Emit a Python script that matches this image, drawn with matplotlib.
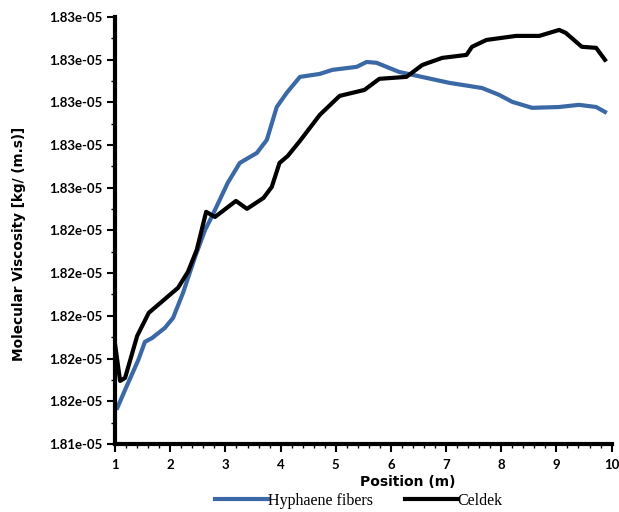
import matplotlib
matplotlib.use("Agg")
import matplotlib.pyplot as plt
from matplotlib.ticker import FormatStrFormatter, MultipleLocator, FixedLocator

# values in units of 1e-5 kg/(m.s)
hyph_x = [1.04, 1.18, 1.42, 1.54, 1.67, 1.90, 2.05, 2.23, 2.45, 2.63, 2.75,
          3.04, 3.26, 3.57, 3.75, 3.93, 4.11, 4.35, 4.71, 4.94, 5.38, 5.56,
          5.74, 6.15, 7.06, 7.65, 7.96, 8.20, 8.56, 9.05, 9.41, 9.72, 9.88]
hyph_y = [1.81609, 1.81693, 1.81833, 1.81918, 1.81936, 1.81983, 1.82030,
          1.82147, 1.82316, 1.82442, 1.82503, 1.82662, 1.82756, 1.82803,
          1.82864, 1.83018, 1.83084, 1.83159, 1.83173, 1.83192, 1.83206,
          1.83229, 1.83225, 1.83182, 1.83131, 1.83107, 1.83075, 1.83042,
          1.83014, 1.83018, 1.83028, 1.83018, 1.82995]

celdek_x = [1.00, 1.09, 1.18, 1.40, 1.61, 1.80, 2.14, 2.32, 2.48, 2.65, 2.81,
            3.19, 3.39, 3.69, 3.84, 3.98, 4.13, 4.35, 4.71, 5.07, 5.52, 5.79,
            6.28, 6.57, 6.93, 7.37, 7.47, 7.73, 8.27, 8.69, 9.05, 9.17, 9.46,
            9.72, 9.88]
celdek_y = [1.81904, 1.81735, 1.81749, 1.81946, 1.82054, 1.82096, 1.82171,
            1.82246, 1.82349, 1.82527, 1.82503, 1.82578, 1.82541, 1.82592,
            1.82644, 1.82756, 1.82789, 1.82859, 1.82981, 1.83070, 1.83098,
            1.83150, 1.83159, 1.83215, 1.83248, 1.83262, 1.83300, 1.83332,
            1.83351, 1.83351, 1.83379, 1.83365, 1.83300, 1.83295, 1.83239]

y_ticks = [1.8144 + 0.002 * k for k in range(11)]
x_ticks = list(range(1, 11))

fig = plt.figure(figsize=(6.19, 5.12), dpi=100)
ax = fig.add_axes([0.186, 0.133, 0.802, 0.834])

ax.plot(hyph_x, [v * 1e-5 for v in hyph_y], color='#3b69a6', lw=3.0,
        label='Hyphaene fibers')
ax.plot(celdek_x, [v * 1e-5 for v in celdek_y], color='black', lw=3.0,
        label='Celdek')

ax.set_xlim(1, 10)
ax.set_ylim(y_ticks[0] * 1e-5, y_ticks[-1] * 1e-5)
ax.yaxis.set_major_locator(FixedLocator([t * 1e-5 for t in y_ticks]))
ax.yaxis.set_minor_locator(FixedLocator([(t + 0.001) * 1e-5 for t in y_ticks[:-1]]))
ax.yaxis.set_major_formatter(FormatStrFormatter('%.2e'))
ax.xaxis.set_major_locator(FixedLocator(x_ticks))
ax.xaxis.set_minor_locator(MultipleLocator(0.2))

for s in ['top', 'right']:
    ax.spines[s].set_visible(False)
for s in ['left', 'bottom']:
    ax.spines[s].set_linewidth(3)

ax.tick_params(which='major', length=6, width=1.5, direction='out')
ax.tick_params(which='minor', length=3, width=1, direction='out')
ax.tick_params(axis='x', pad=5)
ax.tick_params(axis='y', pad=3)
for lab in ax.get_xticklabels() + ax.get_yticklabels():
    lab.set_fontfamily('Lato')
    lab.set_fontweight('bold')
    lab.set_fontsize(9.5)

ax.set_ylabel('Molecular Viscosity [kg/ (m.s)]', fontsize=9.8, fontweight='bold')
ax.yaxis.set_label_coords(-0.179, 0.468)
ax.set_xlabel('Position (m)', fontsize=10, fontweight='bold')
ax.xaxis.set_label_coords(0.589, -0.072)

fig.legend(loc='lower center', bbox_to_anchor=(0.58, -0.022), ncol=2,
           frameon=False, handlelength=3.3, handletextpad=0.0,
           columnspacing=2.0, prop={'family': 'Liberation Serif', 'size': 11.5})

fig.savefig('out.png', dpi=100)
